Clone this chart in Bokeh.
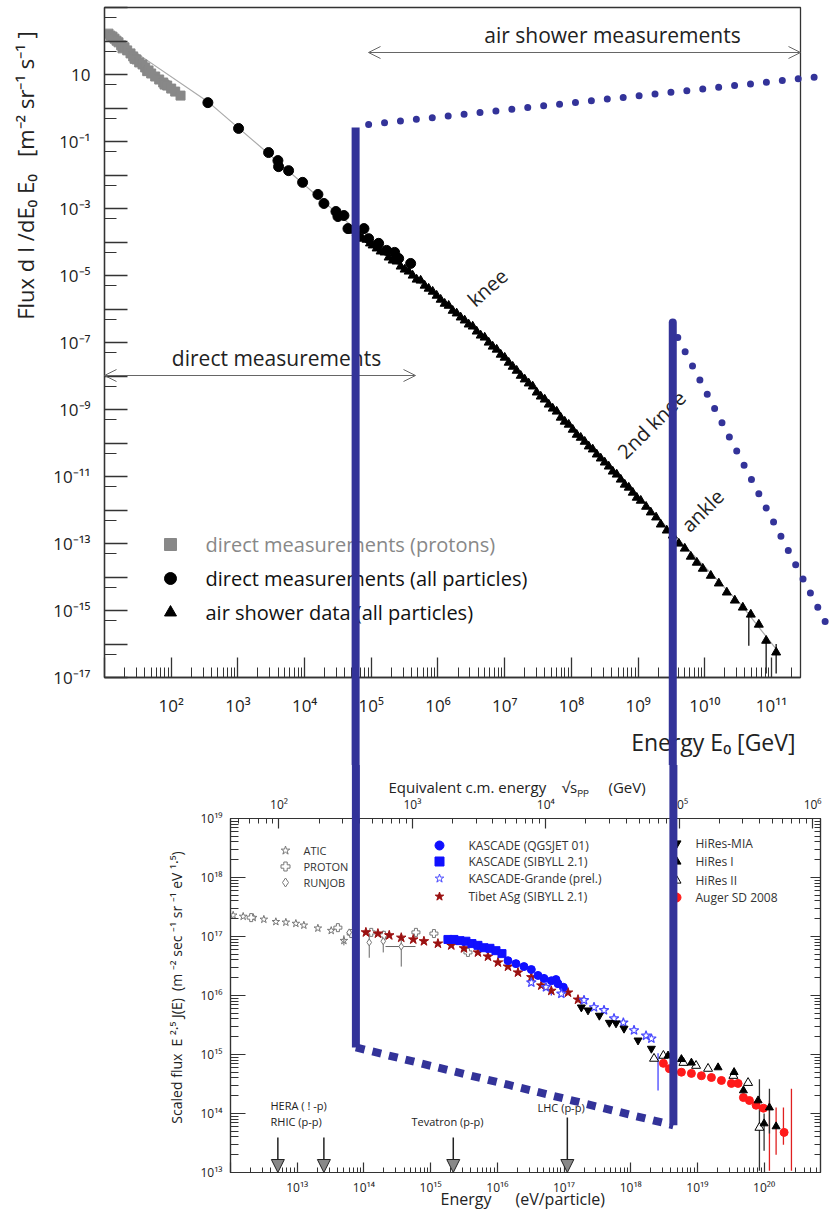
import math
import json
from bokeh.plotting import figure
from bokeh.core.properties import value
from bokeh.models import (Range1d, FixedTicker, LogAxis, LogScale, CustomJSTickFormatter,
                          Label, Arrow, OpenHead, NormalHead)
from bokeh.embed import file_html
from bokeh.resources import INLINE

FONT = "Open Sans"
BLUE = "#333399"
NB = "\u00a0"

# ================= TOP PANEL DATA (log10 E [GeV], log10 flux) =================
proton_logE = [1.06, 1.09, 1.12, 1.15, 1.18, 1.21, 1.25, 1.27, 1.30, 1.34, 1.39, 1.43, 1.45, 1.48,
               1.52, 1.57, 1.61, 1.64, 1.66, 1.70, 1.76, 1.82, 1.88, 1.90, 1.94, 2.00, 2.06, 2.14]
proton_logF = [2.22, 2.16, 2.13, 2.07, 2.01, 1.96, 1.87, 1.78, 1.81, 1.72, 1.63, 1.54, 1.47, 1.45,
               1.36, 1.30, 1.21, 1.10, 1.12, 1.03, 0.94, 0.85, 0.76, 0.70, 0.67, 0.58, 0.49, 0.37]

direct_logE = [2.55, 3.01, 3.46, 3.60, 3.61, 3.76, 3.97, 4.20, 4.29, 4.47, 4.50, 4.59, 4.65, 4.89,
               4.96, 5.11, 5.23, 5.35, 5.41, 5.59]
direct_logF = [0.16, -0.61, -1.33, -1.57, -1.75, -1.87, -2.22, -2.58, -2.85, -3.09, -3.24, -3.21,
               -3.60, -3.60, -3.90, -4.04, -4.25, -4.31, -4.49, -4.64]

shower_logE = [4.72, 4.78, 4.83, 4.87, 4.93, 4.98, 5.02, 5.08, 5.14, 5.20, 5.26, 5.32, 5.38, 5.44,
               5.50, 5.56, 5.62, 5.68, 5.74, 5.80, 5.86, 5.92, 5.98, 6.04, 6.10, 6.16, 6.22, 6.28,
               6.34, 6.40, 6.46, 6.52, 6.58, 6.64, 6.70, 6.76, 6.82, 6.88, 6.94, 7.00, 7.06, 7.12,
               7.18, 7.24, 7.30, 7.36, 7.42, 7.48, 7.54, 7.60, 7.66, 7.72, 7.78, 7.84, 7.90, 7.96,
               8.02, 8.08, 8.14, 8.20, 8.26, 8.32, 8.38, 8.44, 8.50, 8.56, 8.62, 8.68, 8.74, 8.80,
               8.86, 8.92, 8.98, 9.04, 9.12, 9.19, 9.27, 9.34, 9.43, 9.52, 9.61, 9.70, 9.79, 9.88,
               9.97, 10.09, 10.21, 10.33, 10.45, 10.57, 10.69, 10.81, 10.92, 11.07]
shower_logF = [-3.66, -3.72, -3.81, -3.90, -3.93, -4.04, -4.10, -4.19, -4.28, -4.31, -4.46, -4.55,
               -4.58, -4.73, -4.82, -4.88, -5.00, -5.12, -5.15, -5.30, -5.39, -5.48, -5.60, -5.72,
               -5.84, -5.90, -6.05, -6.13, -6.25, -6.34, -6.46, -6.52, -6.67, -6.79, -6.85, -7.00,
               -7.12, -7.21, -7.36, -7.45, -7.60, -7.72, -7.84, -7.99, -8.10, -8.22, -8.31, -8.49,
               -8.61, -8.70, -8.85, -8.97, -9.06, -9.24, -9.36, -9.45, -9.60, -9.75, -9.84, -9.96,
               -10.10, -10.19, -10.34, -10.46, -10.58, -10.70, -10.85, -10.94, -11.09, -11.24,
               -11.33, -11.48, -11.63, -11.72, -11.90, -12.07, -12.22, -12.43, -12.61, -12.76,
               -13.00, -13.15, -13.39, -13.57, -13.75, -13.96, -14.19, -14.46, -14.70, -14.91,
               -15.12, -15.42, -15.90, -16.25]

fit_logE = [1.03, 2.55, 3.49, 4.77, 6.04, 6.94, 8.44, 9.52, 10.54, 11.11]
fit_logF = [2.25, 0.19, -1.42, -3.63, -5.75, -7.30, -10.40, -12.70, -14.82, -16.25]

tail_err_logE = [10.66, 10.92, 11.07]
tail_err_lo = [-16.05, -16.88, -16.88]
tail_err_hi = [-15.05, -15.80, -16.00]

# ================= BOTTOM PANEL DATA (log10 E [eV], log10 E^2.5 J) =================
atic_logE = [12.04, 12.19, 12.34, 12.50, 12.68, 12.83, 12.98, 13.10, 13.31, 13.51, 13.70]
atic_logF = [17.36, 17.34, 17.32, 17.29, 17.25, 17.24, 17.22, 17.19, 17.14, 17.10, 16.93]
protonb_logE = [12.31, 13.61, 13.81, 14.11, 14.30, 14.78, 15.05, 15.56]
protonb_logF = [17.32, 17.15, 17.05, 17.07, 17.02, 17.07, 17.05, 16.73]
runjob_logE = [13.78, 14.08, 14.29, 14.56]
runjob_logF = [17.07, 16.90, 16.92, 16.83]
low_err_logE = [13.70, 14.08, 14.29, 14.56]
low_err_lo = [16.85, 16.64, 16.73, 16.49]
low_err_hi = [17.02, 17.07, 17.10, 17.02]

tibet_logE = [14.03, 14.21, 14.38, 14.56, 14.74, 14.90, 15.11, 15.31, 15.50, 15.71, 15.86, 16.01,
              16.16, 16.31, 16.51, 16.66, 16.81, 17.06, 17.21]
tibet_logF = [17.07, 17.05, 17.02, 16.98, 16.95, 16.92, 16.88, 16.85, 16.80, 16.73, 16.66, 16.56,
              16.49, 16.39, 16.31, 16.17, 16.08, 16.05, 15.93]
kas_sib_logE = [15.26, 15.35, 15.44, 15.53, 15.62, 15.71, 15.80, 15.89, 15.98, 16.07]
kas_sib_logF = [16.95, 16.95, 16.93, 16.92, 16.88, 16.85, 16.81, 16.80, 16.76, 16.71]
kas_qgs_logE = [16.16, 16.28, 16.40, 16.51, 16.61, 16.70, 16.81, 16.88, 16.91, 16.99]
kas_qgs_logF = [16.59, 16.54, 16.49, 16.44, 16.34, 16.29, 16.25, 16.27, 16.20, 16.14]
grande_logE = [16.51, 16.73, 16.96, 17.30, 17.45, 17.60, 17.75, 17.89, 18.05, 18.23, 18.31]
grande_logF = [16.22, 16.14, 16.03, 15.92, 15.80, 15.75, 15.61, 15.54, 15.41, 15.32, 15.27]
mia_logE = [17.26, 17.36, 17.53, 17.68, 17.78, 17.90, 18.11, 18.31]
mia_logF = [15.80, 15.75, 15.66, 15.54, 15.53, 15.44, 15.24, 15.10]
hires1_logE = [18.56, 18.76, 18.91, 19.31, 19.55, 19.69, 19.91, 20.00, 20.08, 20.18]
hires1_logF = [14.98, 14.92, 14.86, 14.78, 14.70, 14.39, 14.22, 13.83, 14.10, 13.78]
hires2_logE = [18.35, 18.49, 18.79, 18.98, 19.16, 19.54, 19.76, 19.93]
hires2_logF = [14.93, 14.98, 14.86, 14.81, 14.76, 14.64, 14.52, 13.76]
auger_logE = [18.49, 18.58, 18.76, 18.91, 19.06, 19.21, 19.36, 19.51, 19.61, 19.69, 19.78, 19.88,
              19.99, 20.30]
auger_logF = [14.85, 14.76, 14.70, 14.68, 14.64, 14.61, 14.56, 14.51, 14.51, 14.27, 14.22, 14.14,
              14.09, 13.68]
auger_err_logE = [20.08, 20.18, 20.29, 20.41]
auger_err_lo = [13.03, 13.30, 13.47, 13.03]
auger_err_hi = [14.22, 14.10, 14.10, 14.42]
hires_err_logE = [19.93, 20.00, 20.08]
hires_err_lo = [13.03, 13.37, 13.66]
hires_err_hi = [14.58, 14.00, 14.42]
blue_err_logE = [16.81, 18.41]
blue_err_lo = [16.00, 14.39]
blue_err_hi = [16.12, 15.02]

accel_names = ["HERA", "RHIC", "Tevatron", "LHC"]
accel_logE = [12.71, 13.40, 15.34, 17.05]

# highlight overlay (blue) -- energies and levels where the marks sit
ov_top_E = [4.765, 9.52]           # log10 GeV
ov_top_F = [-0.58, -6.40]
ov_top_dot1 = ([4.96, 11.875], [-0.49, 0.97])
ov_top_dot2 = ([9.595, 11.875], [-6.85, -15.60])
ov_bot_E = [13.88, 18.64]          # log10 eV
ov_bot_F = [15.12, 13.80]

P = lambda arr: [10.0 ** v for v in arr]


def pow_formatter(hide, plain_one=False):
    code = """
    const sup = {"0":"\u2070","1":"\u00b9","2":"\u00b2","3":"\u00b3","4":"\u2074","5":"\u2075",
                 "6":"\u2076","7":"\u2077","8":"\u2078","9":"\u2079","-":"\u207b"};
    const e = Math.round(Math.log10(tick));
    const hide = %s;
    if (hide.indexOf(e) >= 0) { return ""; }
    if (e == 1 && %s) { return "10"; }
    return "10" + String(e).split("").map(c => sup[c]).join("");
    """ % (json.dumps(hide), "true" if plain_one else "false")
    return CustomJSTickFormatter(code=code)


def style_axis(ax, maj_in, min_in, size, color="#333", lw=1.3):
    ax.major_tick_in = maj_in
    ax.major_tick_out = 0
    ax.minor_tick_in = min_in
    ax.minor_tick_out = 0
    ax.axis_line_color = color
    ax.major_tick_line_color = color
    ax.minor_tick_line_color = color
    ax.axis_line_width = lw
    ax.major_tick_line_width = lw
    ax.minor_tick_line_width = 1
    ax.major_label_text_font = FONT
    ax.major_label_text_font_size = size
    ax.major_label_text_color = "#222"


# ================= TOP FIGURE =================
T_W, T_H = 829, 765
T_L, T_R, T_T, T_B = 104, 29, 7, 88
T_X = (1.0, 11.435)
T_Y = (-17.0, 3.0)
T_FW, T_FH = T_W - T_L - T_R, T_H - T_T - T_B

p1 = figure(width=T_W, height=T_H, x_axis_type="log", y_axis_type="log",
            x_range=Range1d(10 ** T_X[0], 10 ** T_X[1]), y_range=Range1d(10 ** T_Y[0], 10 ** T_Y[1]),
            output_backend="svg", toolbar_location=None,
            min_border_left=T_L, min_border_right=T_R, min_border_top=T_T, min_border_bottom=T_B)
p1.grid.visible = False
p1.outline_line_color = "#333"
p1.outline_line_width = 1.3

xa = p1.xaxis[0]
xa.ticker = FixedTicker(ticks=[10.0 ** k for k in range(1, 12)],
                        minor_ticks=[m * 10.0 ** k for k in range(1, 12) for m in range(2, 10)])
xa.formatter = pow_formatter([1])
style_axis(xa, 20, 10, "17px")
xa.major_label_standoff = 16

ya = p1.yaxis[0]
ya.ticker = FixedTicker(ticks=[10.0 ** k for k in range(-17, 4)],
                        minor_ticks=[5 * 10.0 ** k for k in range(-18, 3)])
ya.formatter = pow_formatter([k for k in range(-18, 4) if k % 2 == 0] + [3], plain_one=True)
style_axis(ya, 23, 12, "17px")
ya.major_label_standoff = 14
ya.major_label_orientation = "horizontal"


def tp(px, py):
    lx = T_X[0] + (px - T_L) * (T_X[1] - T_X[0]) / T_FW
    ly = T_Y[1] - (py - T_T) * (T_Y[1] - T_Y[0]) / T_FH
    return 10 ** lx, 10 ** ly


def tlabel(px, py, text, size, angle=0.0, align="center", color="#222"):
    # screen units are measured from the frame's bottom-left corner
    p1.add_layout(Label(x=px - T_L, y=(T_T + T_FH) - py, x_units="screen", y_units="screen",
                        text=text, text_font=FONT, text_font_size=size, angle=angle,
                        text_align=align, text_baseline="middle", text_color=color))


def ttext(px, py, text, size, angle=0.0, align="center", color="#222"):
    # text outside the frame: drawn as an unclipped overlay glyph
    x, y = tp(px, py)
    p1.text(x=[x], y=[y], text=[text], angle=angle, text_font=value(FONT),
            text_font_size=value(size), text_align=align, text_baseline="middle",
            text_color=color, level="overlay")


# fit line and data
p1.line(P(fit_logE), P(fit_logF), line_color="#aaaaaa", line_width=1.2)
p1.segment(P(tail_err_logE), P(tail_err_lo), P(tail_err_logE), P(tail_err_hi),
           line_color="#111", line_width=1.3)
p1.scatter(P(proton_logE), P(proton_logF), marker="square", size=9, fill_color="#888888",
           line_color="#888888")
p1.scatter(P(direct_logE), P(direct_logF), marker="circle", size=10, fill_color="black",
           line_color="black")
p1.scatter(P(shower_logE), P(shower_logF), marker="triangle", size=9, fill_color="black",
           line_color="black")

# legend
leg_items = [("square", "#888888", "direct measurements (protons)", 544),
             ("circle", "black", "direct measurements (all particles)", 578),
             ("triangle", "black", "air shower data (all particles)", 612)]
for mk, col, txt, py in leg_items:
    mx, my = tp(170, py)
    p1.scatter([mx], [my], marker=mk, size=12, fill_color=col, line_color=col)
    tlabel(205, py, txt, "20px", align="left",
           color="#888888" if col != "black" else "#111")

tlabel(612, 34, "air shower measurements", "21px")
tlabel(276, 357, "direct measurements", "21px")
tlabel(487, 287, "knee", "20px", angle=0.72)
tlabel(651, 424, "2nd knee", "20px", angle=0.78)
tlabel(702, 510, "ankle", "20px", angle=0.78)

for (x0, x1, py) in [(368, 800, 52), (104, 415, 375)]:
    a0, b0 = tp(x0, py)
    a1, b1 = tp(x1, py)
    p1.add_layout(Arrow(start=OpenHead(size=12, line_color="#666", line_width=1),
                        end=OpenHead(size=12, line_color="#666", line_width=1),
                        x_start=a0, y_start=b0, x_end=a1, y_end=b1,
                        line_color="#666", line_width=1))

# axis titles (outside the frame)
ttext(24, 175, "Flux d I /dE\u2080 E\u2080" + NB * 3 + "[m\u207b\u00b2 sr\u207b\u00b9 s\u207b\u00b9 ]",
      "22px", angle=math.pi / 2)
ttext(795, 741, "Energy E\u2080 [GeV]", "23px", align="right")

# blue highlight overlay
p1.line([10 ** ov_top_E[0]] * 2, [10 ** ov_top_F[0], 1e-22], line_color=BLUE, line_width=8,
        level="overlay")
p1.line([10 ** ov_top_E[1]] * 2, [10 ** ov_top_F[1], 1e-22], line_color=BLUE, line_width=8,
        line_cap="round", level="overlay")
for xs, ys in (ov_top_dot1, ov_top_dot2):
    p1.line(P(xs), P(ys), line_color=BLUE, line_width=7, line_dash="0 16", line_cap="round",
            level="overlay")

# ================= BOTTOM FIGURE =================
B_W, B_H = 829, 449
B_L, B_R, B_T, B_B = 230, 9, 53, 42
B_Y0 = T_H  # page offset
B_X = (12.0, 12.0 + 590 / 66.7)
B_Y = (13.0, 19.0)
B_FW, B_FH = B_W - B_L - B_R, B_H - B_T - B_B


def cm(e_ev):
    return math.sqrt(2 * 0.938e-9 * e_ev)


p2 = figure(width=B_W, height=B_H, x_axis_type="log", y_axis_type="log",
            x_range=Range1d(10 ** B_X[0], 10 ** B_X[1]), y_range=Range1d(10 ** B_Y[0], 10 ** B_Y[1]),
            output_backend="svg", toolbar_location=None,
            min_border_left=B_L, min_border_right=B_R, min_border_top=B_T, min_border_bottom=B_B)
p2.grid.visible = False
p2.outline_line_color = "#333"
p2.outline_line_width = 1.2
p2.extra_x_ranges = {"cm": Range1d(cm(10 ** B_X[0]), cm(10 ** B_X[1]))}
p2.extra_x_scales = {"cm": LogScale()}

bx = p2.xaxis[0]
bx.ticker = FixedTicker(ticks=[10.0 ** k for k in range(12, 21)],
                        minor_ticks=[m * 10.0 ** k for k in range(12, 21) for m in range(2, 10)])
bx.formatter = pow_formatter([12])
style_axis(bx, 10, 5, "12px", lw=1.2)
bx.major_label_standoff = 6

by = p2.yaxis[0]
by.ticker = FixedTicker(ticks=[10.0 ** k for k in range(13, 20)],
                        minor_ticks=[m * 10.0 ** k for k in range(13, 19) for m in range(2, 10)])
by.formatter = pow_formatter([])
style_axis(by, 15, 8, "12px", lw=1.2)
by.major_label_standoff = 8
by.major_label_orientation = "horizontal"

top_ax = LogAxis(x_range_name="cm")
top_ax.ticker = FixedTicker(ticks=[10.0 ** k for k in range(1, 7)],
                            minor_ticks=[m * 10.0 ** k for k in range(1, 7) for m in range(2, 10)])
top_ax.formatter = pow_formatter([1])
style_axis(top_ax, 10, 5, "12px", lw=1.2)
top_ax.major_label_standoff = 6
p2.add_layout(top_ax, "above")

right_ax = LogAxis()
right_ax.ticker = FixedTicker(ticks=[10.0 ** k for k in range(13, 20)],
                              minor_ticks=[m * 10.0 ** k for k in range(13, 19) for m in range(2, 10)])
right_ax.formatter = pow_formatter(list(range(10, 22)))
style_axis(right_ax, 10, 6, "1px", lw=1.2)
right_ax.major_label_standoff = 0
p2.add_layout(right_ax, "right")


def bp(px, py):
    lx = B_X[0] + (px - B_L) * (B_X[1] - B_X[0]) / B_FW
    ly = B_Y[1] - (py - B_Y0 - B_T) * (B_Y[1] - B_Y[0]) / B_FH
    return 10 ** lx, 10 ** ly


def blabel(px, py, text, size, angle=0.0, align="left", color="#222"):
    p2.add_layout(Label(x=px - B_L, y=(B_Y0 + B_T + B_FH) - py, x_units="screen",
                        y_units="screen", text=text, text_font=FONT, text_font_size=size,
                        angle=angle, text_align=align, text_baseline="middle", text_color=color))


def btext(px, py, text, size, angle=0.0, align="left", color="#222"):
    x, y = bp(px, py)
    p2.text(x=[x], y=[y], text=[text], angle=angle, text_font=value(FONT),
            text_font_size=value(size), text_align=align, text_baseline="middle",
            text_color=color, level="overlay")


# error bars
p2.segment(P(low_err_logE), P(low_err_lo), P(low_err_logE), P(low_err_hi), line_color="#666",
           line_width=1)
lx0, _ = bp(385, 1000)
lx1, _ = bp(415, 1000)
p2.segment([lx0], [10 ** 16.83], [lx1], [10 ** 16.83], line_color="#666", line_width=1)
p2.segment(P(auger_err_logE), P(auger_err_lo), P(auger_err_logE), P(auger_err_hi),
           line_color="#e02020", line_width=1.3)
p2.segment(P(hires_err_logE), P(hires_err_lo), P(hires_err_logE), P(hires_err_hi),
           line_color="#333", line_width=1.3)
p2.segment(P(blue_err_logE), P(blue_err_lo), P(blue_err_logE), P(blue_err_hi),
           line_color="#4444ff", line_width=1.3)

# data markers
GR = "#777777"
p2.scatter(P(atic_logE), P(atic_logF), marker="star", size=8, fill_alpha=0, line_color=GR)
p2.scatter(P(protonb_logE), P(protonb_logF), marker="plus", size=8, fill_color="white", line_color=GR)
p2.scatter(P(runjob_logE), P(runjob_logF), marker="diamond", size=7, fill_color="white",
           line_color=GR)
p2.scatter(P(tibet_logE), P(tibet_logF), marker="star", size=10, fill_color="#9b1111",
           line_color="#9b1111")
p2.scatter(P(kas_sib_logE), P(kas_sib_logF), marker="square", size=8, fill_color="#1010ff",
           line_color="#1010ff")
p2.scatter(P(kas_qgs_logE), P(kas_qgs_logF), marker="circle", size=8, fill_color="#1010ff",
           line_color="#1010ff")
p2.scatter(P(grande_logE), P(grande_logF), marker="star", size=10, fill_alpha=0,
           line_color="#4a4aff", line_width=1.2)
p2.scatter(P(mia_logE), P(mia_logF), marker="inverted_triangle", size=8, fill_color="black",
           line_color="black")
p2.scatter(P(hires2_logE), P(hires2_logF), marker="triangle", size=9, fill_color="white",
           line_color="black")
p2.scatter(P(auger_logE), P(auger_logF), marker="circle", size=8, fill_color="#ff1a1a",
           line_color="#ff1a1a")
p2.scatter(P(hires1_logE), P(hires1_logF), marker="triangle", size=8, fill_color="black",
           line_color="black")

# legend entries
leg2 = [(285, 850, "star", "white", GR, "ATIC", 303, "11px"),
        (285, 866, "plus", "white", GR, "PROTON", 303, "11px"),
        (285, 882, "diamond", "white", GR, "RUNJOB", 303, "11px"),
        (439, 845, "circle", "#1010ff", "#1010ff", "KASCADE (QGSJET 01)", 468, "12px"),
        (439, 861, "square", "#1010ff", "#1010ff", "KASCADE (SIBYLL 2.1)", 468, "12px"),
        (439, 878, "star", "white", "#4a4aff", "KASCADE-Grande (prel.)", 468, "12px"),
        (439, 896, "star", "#9b1111", "#9b1111", "Tibet ASg (SIBYLL 2.1)", 468, "12px"),
        (676, 843, "inverted_triangle", "black", "black", "HiRes-MIA", 695, "12px"),
        (676, 861, "triangle", "black", "black", "HiRes I", 695, "12px"),
        (676, 880, "triangle", "white", "black", "HiRes II", 695, "12px"),
        (676, 897, "circle", "#ff1a1a", "#ff1a1a", "Auger SD 2008", 695, "12px")]
for mx, my, mk, fc, lc, txt, tx, fs in leg2:
    x, y = bp(mx, my)
    p2.scatter([x], [y], marker=mk, size=9, fill_color=fc, line_color=lc)
    blabel(tx, my, txt, fs, color="#333")

blabel(270, 1105, "HERA ( ! -p)", "11px")
blabel(270, 1121, "RHIC (p-p)", "11px")
blabel(411, 1121, "Tevatron (p-p)", "11px")
blabel(537, 1107, "LHC (p-p)", "11px")

arrow_tops = [1137, 1137, 1137, 1117]
for name, le, ty in zip(accel_names, accel_logE, arrow_tops):
    _, y0 = bp(300, ty)
    p2.add_layout(Arrow(end=NormalHead(size=13, fill_color="#888888", line_color="#222",
                                       line_width=1),
                        x_start=10 ** le, y_start=y0, x_end=10 ** le, y_end=10 ** B_Y[0],
                        line_color="#222", line_width=1.5))

# axis titles (outside the frame)
btext(388, 786, "Equivalent c.m. energy" + NB * 4 + "\u221as\u209a\u209a" + NB * 5 + "(GeV)", "15px")
btext(440, 1198, "Energy", "16px")
btext(515, 1198, "(eV/particle)", "16px")
btext(176, 987, "Scaled flux" + NB * 2 + "E \u00b2\u00b7\u2075 J(E)" + NB * 2 +
      "(m \u207b\u00b2 sec \u207b\u00b9 sr \u207b\u00b9 eV \u00b9\u00b7\u2075)",
      "14px", angle=math.pi / 2, align="center")

# blue highlight overlay
p2.line([10 ** ov_bot_E[0]] * 2, [1e22, 10 ** ov_bot_F[0]], line_color=BLUE, line_width=8,
        level="overlay")
p2.line(P(ov_bot_E), P(ov_bot_F), line_color=BLUE, line_width=8, line_dash="9 8",
        level="overlay")
p2.line([10 ** ov_bot_E[1]] * 2, [1e22, 10 ** ov_bot_F[1]], line_color=BLUE, line_width=8,
        level="overlay")

# two independent roots, so that the frames are not aligned with each other
open("out.html", "w", encoding="utf-8").write(file_html([p1, p2], INLINE))
